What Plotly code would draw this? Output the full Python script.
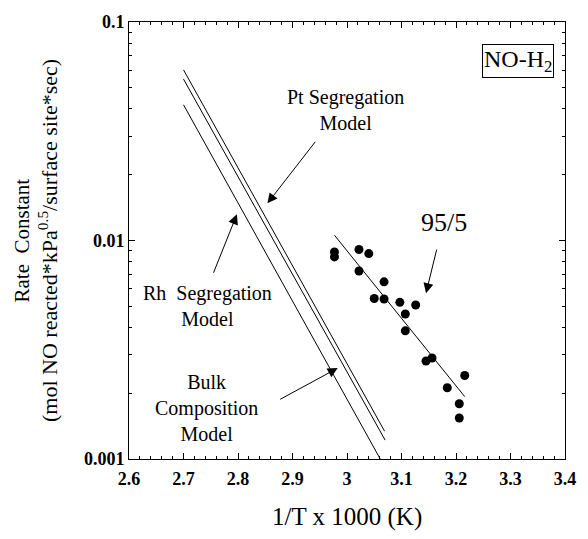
import plotly.graph_objects as go

# ---- data ----
x_9505 = [2.977, 2.977, 3.022, 3.040, 3.022, 3.068, 3.050, 3.068, 3.097,
          3.126, 3.107, 3.107, 3.145, 3.156, 3.216, 3.184, 3.206, 3.206]
k_9505 = [0.00887, 0.00841, 0.0091, 0.00871, 0.00725, 0.00647, 0.00543, 0.0054,
          0.00521, 0.00507, 0.00461, 0.00386, 0.00281, 0.0029, 0.00241, 0.00212,
          0.00179, 0.00154]
fit_x = [2.977, 3.216]
fit_k = [0.01057, 0.00193]

pt_seg_x = [2.7, 3.069]
pt_seg_k = [0.0604, 0.00134]
rh_seg_x = [2.7, 3.070]
rh_seg_k = [0.0548, 0.00122]
bulk_x = [2.7, 3.061]
bulk_k = [0.0418, 0.001]

x_ticks = [2.6, 2.7, 2.8, 2.9, 3.0, 3.1, 3.2, 3.3, 3.4]
x_ticklabels = ["2.6", "2.7", "2.8", "2.9", "3", "3.1", "3.2", "3.3", "3.4"]
y_ticks = [0.001, 0.01, 0.1]
y_ticklabels = ["0.001", "0.01", "0.1"]

SERIF = "Liberation Serif"
line_style = dict(color="black", width=1)

fig = go.Figure()
for xs, ys in [(pt_seg_x, pt_seg_k), (rh_seg_x, rh_seg_k), (bulk_x, bulk_k), (fit_x, fit_k)]:
    fig.add_trace(go.Scatter(x=xs, y=ys, mode="lines", line=line_style,
                             showlegend=False, hoverinfo="skip"))
fig.add_trace(go.Scatter(x=x_9505, y=k_9505, mode="markers",
                         marker=dict(color="black", size=9), showlegend=False))

axis_common = dict(showline=True, linecolor="black", linewidth=1, mirror="allticks",
                   ticks="inside", tickcolor="black", ticklen=6, showgrid=False,
                   zeroline=False,
                   tickfont=dict(family=SERIF, size=18, color="black", weight="bold"))

fig.update_xaxes(range=[2.6, 3.4], tickvals=x_ticks, ticktext=x_ticklabels,
                 ticklabelstandoff=3,
                 minor=dict(ticks="inside", ticklen=3, dtick=0.02, tickcolor="black",
                            showgrid=False),
                 **axis_common)
fig.update_yaxes(type="log", range=[-3, -1], tickvals=y_ticks, ticktext=y_ticklabels,
                 minor=dict(ticks="inside", ticklen=3, dtick="D1", tickcolor="black",
                            showgrid=False),
                 **axis_common)

txt = dict(family=SERIF, size=20, color="black")
annotations = [
    # labels
    dict(x=2.998, y=-1.401, text="Pt Segregation<br>Model", showarrow=False, font=txt),
    dict(x=2.744, y=-2.300, text="Rh&nbsp;&nbsp;Segregation<br>Model", showarrow=False, font=txt),
    dict(x=2.742, y=-2.765, text="Bulk<br>Composition<br>Model", showarrow=False, font=txt),
    dict(x=3.178, y=-1.917, text="95/5", showarrow=False,
         font=dict(family=SERIF, size=26, color="black")),
    dict(x=3.314, y=-1.178, text="NO-H<sub>2</sub>", showarrow=False,
         font=dict(family=SERIF, size=24, color="black"),
         bordercolor="black", borderwidth=1, borderpad=1, bgcolor="white"),
]
arrows = [
    (2.854, -1.830, 49, -63),
    (2.798, -1.880, -24, 60),
    (2.983, -2.584, -59, 32),
    (3.145, -2.241, 11, -45),
]
for x, y, ax, ay in arrows:
    annotations.append(dict(x=x, y=y, ax=ax, ay=ay, text="", showarrow=True,
                            arrowhead=2, arrowsize=2, arrowwidth=1, arrowcolor="black"))

# axis titles
annotations.append(dict(xref="paper", yref="paper", x=0.5, y=-0.1334, text="1/T x 1000 (K)",
                        showarrow=False, font=dict(family=SERIF, size=25, color="black"),
                        xanchor="center", yanchor="middle"))
annotations.append(dict(xref="paper", yref="paper", x=-0.2455, y=0.5, text="Rate&nbsp;&nbsp;Constant",
                        showarrow=False, textangle=-90, xanchor="center", yanchor="middle",
                        font=dict(family=SERIF, size=21, color="black")))
annotations.append(dict(xref="paper", yref="paper", x=-0.187, y=0.5,
                        text="(mol NO reacted*kPa<sup>0.5</sup>/surface site*sec)",
                        showarrow=False, textangle=-90, xanchor="center", yanchor="middle",
                        font=dict(family=SERIF, size=22, color="black")))

fig.update_layout(width=588, height=539, plot_bgcolor="white", paper_bgcolor="white",
                  margin=dict(l=129, r=15, t=21, b=80), annotations=annotations)

fig.write_html("out.html", config={"displayModeBar": False},
               post_script="document.body.style.margin='0';document.body.style.overflow='hidden';")
